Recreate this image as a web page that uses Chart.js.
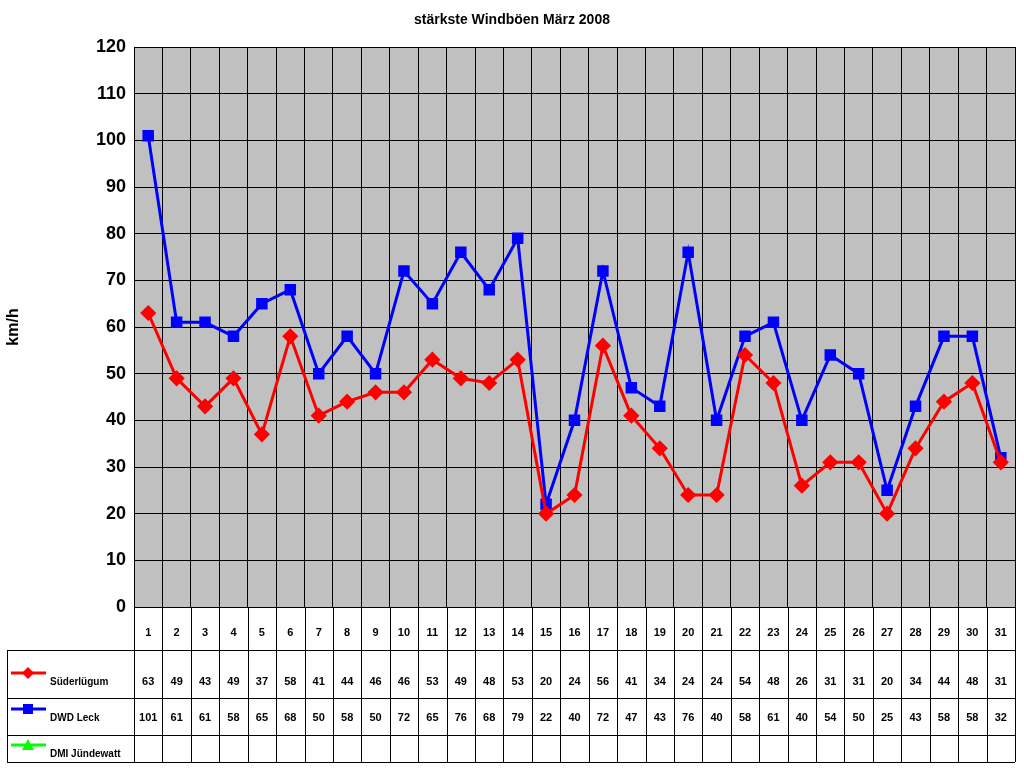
<!DOCTYPE html>
<html><head><meta charset="utf-8">
<script src="https://cdn.jsdelivr.net/npm/chart.js@4"></script>
<style>html,body{margin:0;padding:0;background:#fff}#w{width:1024px;height:768px}</style>
</head><body><div id="w"><canvas id="c" width="1024" height="768"></canvas></div>
<script>
const categories = Array.from({length:31},(_,i)=>String(i+1));
const suederluegum = [63,49,43,49,37,58,41,44,46,46,53,49,48,53,20,24,56,41,34,24,24,54,48,26,31,31,20,34,44,48,31];
const dwdLeck = [101,61,61,58,65,68,50,58,50,72,65,76,68,79,22,40,72,47,43,76,40,58,61,40,54,50,25,43,58,58,32];
const dmiJuendewatt = new Array(31).fill(null);
const seriesNames = ['Süderlügum','DWD Leck','DMI Jündewatt'];
const titleText = 'stärkste Windböen März 2008';
const F = 'Arial, "Liberation Sans", sans-serif';

const tablePlugin = {
  id:'table',
  afterDraw(chart){
    const ctx = chart.ctx, x = chart.scales.x, a = chart.chartArea;
    ctx.save();
    ctx.fillStyle='#000'; ctx.font='bold 14px '+F; ctx.textAlign='center'; ctx.textBaseline='middle';
    ctx.fillText(titleText, 512, 20);
    const rows=[a.bottom,650,698,735,762];
    const left=7, right=a.right;
    ctx.strokeStyle='#000'; ctx.lineWidth=1;
    ctx.beginPath();
    for(let i=1;i<rows.length;i++){ctx.moveTo(left,rows[i]+0.5);ctx.lineTo(right,rows[i]+0.5);}
    ctx.moveTo(left+0.5,rows[1]);ctx.lineTo(left+0.5,rows[4]);
    const w = (x.right-x.left)/categories.length;
    for(let i=0;i<=categories.length;i++){const px=Math.round(x.left+i*w)+0.5;ctx.moveTo(px,a.bottom);ctx.lineTo(px,rows[4]);}
    ctx.stroke();
    ctx.font='bold 11px '+F;
    categories.forEach((c,i)=>ctx.fillText(c,x.getPixelForValue(i),633));
    const data=[suederluegum,dwdLeck,dmiJuendewatt], ys=[682,718,754];
    data.forEach((d,r)=>d.forEach((v,i)=>{if(v!=null)ctx.fillText(String(v),x.getPixelForValue(i),ys[r]);}));
    const cols=['#ff0000','#0000ff','#00ff00'], ky=[673,709,745];
    ctx.textAlign='left'; ctx.font='bold 10px '+F;
    seriesNames.forEach((n,r)=>{
      ctx.strokeStyle=cols[r];ctx.fillStyle=cols[r];ctx.lineWidth=3;
      ctx.beginPath();ctx.moveTo(11,ky[r]);ctx.lineTo(46,ky[r]);ctx.stroke();
      ctx.beginPath();
      if(r===0){ctx.moveTo(28,ky[r]-6);ctx.lineTo(34,ky[r]);ctx.lineTo(28,ky[r]+6);ctx.lineTo(22,ky[r]);}
      else if(r===1){ctx.rect(23,ky[r]-5,10,10);}
      else {ctx.moveTo(28,ky[r]-6);ctx.lineTo(34,ky[r]+5);ctx.lineTo(22,ky[r]+5);}
      ctx.closePath();ctx.fill();
      ctx.fillStyle='#000';ctx.fillText(n,50,ys[r]);
    });
    ctx.restore();
  }
};
const bgPlugin={id:'bg',beforeDraw(chart){const a=chart.chartArea,c=chart.ctx;c.save();c.fillStyle='#c0c0c0';c.fillRect(a.left,a.top,a.right-a.left,a.bottom-a.top);c.restore();}};

new Chart(document.getElementById('c'),{
  type:'line',
  data:{labels:categories,datasets:[
    {label:seriesNames[0],data:suederluegum,borderColor:'#ff0000',backgroundColor:'#ff0000',borderWidth:3,pointStyle:'rectRot',pointRadius:6,tension:0},
    {label:seriesNames[1],data:dwdLeck,borderColor:'#0000ff',backgroundColor:'#0000ff',borderWidth:3,pointStyle:'rect',pointRadius:6,tension:0},
    {label:seriesNames[2],data:dmiJuendewatt,borderColor:'#00ff00',backgroundColor:'#00ff00',borderWidth:3,pointStyle:'triangle',pointRadius:6}
  ]},
  options:{responsive:false,animation:false,
    layout:{padding:{top:47,bottom:161,right:6,left:0}},
    plugins:{legend:{display:false},title:{display:false},tooltip:{enabled:false}},
    scales:{
      x:{offset:true,grid:{offset:true,color:'#000',drawTicks:false},border:{color:'#000'},ticks:{display:false},afterFit(s){s.height=0;}},
      y:{min:0,max:120,ticks:{stepSize:10,color:'#000',font:{family:F,size:18,weight:'bold'},padding:8},
        grid:{color:'#000',drawTicks:false},border:{color:'#000'},
        title:{display:true,text:'km/h',color:'#000',font:{family:F,size:16,weight:'bold'}},
        afterFit(s){s.width=134;}}
    }
  },
  plugins:[bgPlugin,tablePlugin]
});
</script></body></html>
